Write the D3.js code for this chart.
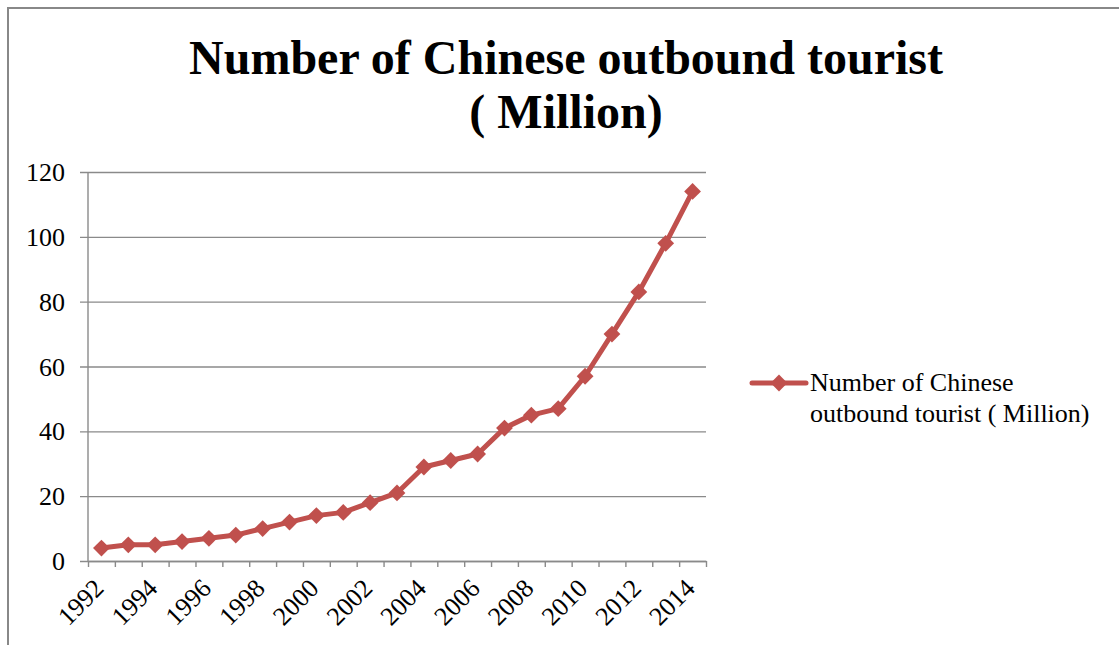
<!DOCTYPE html>
<html>
<head>
<meta charset="utf-8">
<script src="https://cdnjs.cloudflare.com/ajax/libs/d3/7.8.5/d3.min.js"></script>
<style>
  body { margin: 0; background: #fff; }
  text { font-family: "Liberation Serif", "Times New Roman", Times, "DejaVu Serif", serif; }
</style>
</head>
<body>
<div id="chart"></div>
<script>
const years = ["1992","1993","1994","1995","1996","1997","1998","1999","2000","2001","2002","2003",
  "2004","2005","2006","2007","2008","2009","2010","2011","2012","2013","2014"];
const tourists = [4, 5, 5, 6, 7, 8, 10, 12, 14, 15, 18, 21, 29, 31, 33, 41, 45, 47, 57, 70, 83, 98, 114];
const yTicks = [0, 20, 40, 60, 80, 100, 120];
const xLabels = years.filter((d, i) => i % 2 === 0);
const titleLines = ["Number of Chinese outbound tourist", "( Million)"];
const legendLines = ["Number of Chinese", "outbound tourist ( Million)"];

const width = 1119, height = 645;
const m = { l: 88, r: 1119 - 706, t: 172, b: 645 - 561 };
const red = "#c0504d", grid = "#8a8a8a";
const serif = "'Liberation Serif', 'Times New Roman', Times, serif";

const svg = d3.select("#chart").append("svg").attr("width", width).attr("height", height)
  .attr("font-family", serif);

// outer frame (only the left and top edges are in view)
svg.append("path")
  .attr("d", "M8,645 V8 H1119")
  .attr("fill", "none").attr("stroke", "#888").attr("stroke-width", 2);

// title
svg.append("text")
  .attr("x", 566).attr("y", 74)
  .attr("text-anchor", "middle")
  .attr("font-family", serif)
  .style("font-size", "48px").style("font-weight", "bold")
  .selectAll("tspan").data(titleLines).enter().append("tspan")
  .attr("x", 566).attr("dy", (d, i) => i ? 54 : 0)
  .text(d => d);

const x = d3.scaleBand().domain(years).range([m.l, width - m.r]).padding(0);
const y = d3.scaleLinear().domain([0, 120]).range([height - m.b, m.t]);
const xIdx = d3.scaleLinear().domain([0, years.length]).range([m.l, width - m.r]);

// gridlines + y ticks
const yAxis = svg.append("g")
  .attr("transform", "translate(" + (width - m.r) + ",0)")
  .call(d3.axisLeft(y).tickValues(yTicks).tickSize(width - m.r - m.l + 8).tickFormat(""));
yAxis.select(".domain").remove();
yAxis.selectAll(".tick line").attr("stroke", grid).attr("stroke-width", 1.4);

svg.selectAll(".ylab").data(yTicks).enter().append("text")
  .attr("class", "ylab")
  .attr("x", 65).attr("y", d => y(d)).attr("dy", "0.35em")
  .attr("text-anchor", "end")
  .attr("font-family", serif)
  .style("font-size", "26px")
  .text(d => d);

// y axis line
svg.append("line")
  .attr("x1", m.l).attr("x2", m.l).attr("y1", y(120)).attr("y2", y(0))
  .attr("stroke", grid).attr("stroke-width", 1.4);

// x axis with ticks at category boundaries
const xAxis = svg.append("g")
  .attr("transform", "translate(0," + y(0) + ")")
  .call(d3.axisBottom(xIdx).tickValues(d3.range(years.length + 1)).tickSize(6).tickSizeOuter(0).tickFormat(""));
xAxis.selectAll("line, path").attr("stroke", grid).attr("stroke-width", 1.4);

svg.selectAll(".xlab").data(xLabels).enter().append("text")
  .attr("class", "xlab")
  .attr("transform", d => "translate(" + (x(d) + x.bandwidth() / 2 - 9) + "," + (y(0) + 16) + ") rotate(-45)")
  .attr("text-anchor", "end")
  .attr("dy", "0.7em")
  .attr("font-family", serif)
  .style("font-size", "26px")
  .text(d => d);

// series line + diamond markers
const line = d3.line()
  .x((d, i) => x(years[i]) + x.bandwidth() / 2)
  .y(d => y(d));

svg.append("path")
  .datum(tourists)
  .attr("d", line)
  .attr("fill", "none").attr("stroke", red).attr("stroke-width", 5)
  .attr("stroke-linejoin", "round");

const diamond = d3.symbol().type(d3.symbolDiamond2).size(180);
svg.selectAll(".pt").data(tourists).enter().append("path")
  .attr("class", "pt")
  .attr("transform", (d, i) => "translate(" + (x(years[i]) + x.bandwidth() / 2) + "," + y(d) + ")")
  .attr("d", diamond)
  .attr("fill", red);

// legend
const lg = svg.append("g").attr("transform", "translate(752,383)");
lg.append("line").attr("x1", 0).attr("x2", 54).attr("stroke", red).attr("stroke-width", 5).attr("stroke-linecap", "round");
lg.append("path").attr("transform", "translate(27,0)").attr("d", diamond).attr("fill", red);
lg.append("text")
  .attr("x", 58).attr("y", 8)
  .attr("font-family", serif)
  .style("font-size", "26px")
  .selectAll("tspan").data(legendLines).enter().append("tspan")
  .attr("x", 58).attr("dy", (d, i) => i ? 31 : 0)
  .text(d => d);
</script>
</body>
</html>
